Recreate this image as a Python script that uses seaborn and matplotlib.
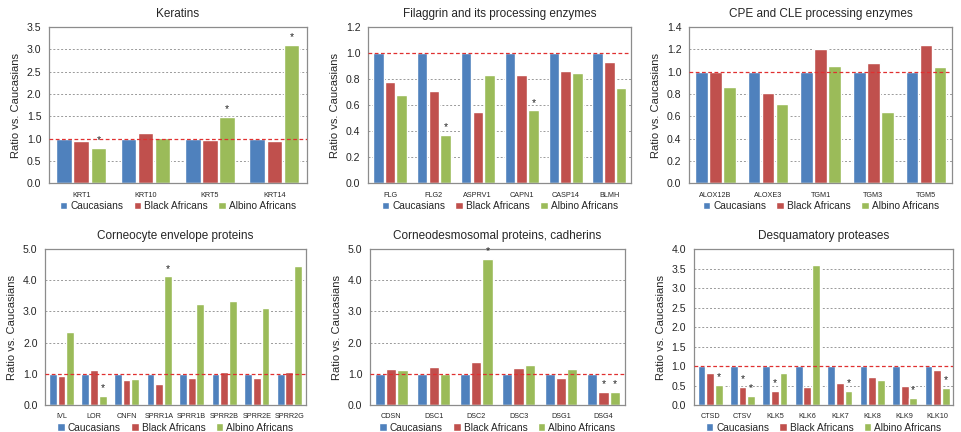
import matplotlib
matplotlib.use("Agg")
import matplotlib.pyplot as plt
import numpy as np
import pandas as pd
import seaborn as sns
from matplotlib.ticker import FormatStrFormatter, MultipleLocator

GROUPS = ["Caucasians", "Black Africans", "Albino Africans"]
COLORS = ["#4F81BD", "#C0504D", "#9BBB59"]

# Keratins
ker_genes = ["KRT1", "KRT10", "KRT5", "KRT14"]
ker_black = [0.94, 1.13, 0.96, 0.95]
ker_albino = [0.79, 1.02, 1.48, 3.10]
ker_sig = [("KRT1", "Albino Africans"), ("KRT5", "Albino Africans"), ("KRT14", "Albino Africans")]

# Filaggrin and its processing enzymes
flg_genes = ["FLG", "FLG2", "ASPRV1", "CAPN1", "CASP14", "BLMH"]
flg_black = [0.78, 0.71, 0.55, 0.83, 0.86, 0.93]
flg_albino = [0.68, 0.37, 0.83, 0.56, 0.85, 0.73]
flg_sig = [("FLG2", "Albino Africans"), ("CAPN1", "Albino Africans")]

# CPE and CLE processing enzymes
cpe_genes = ["ALOX12B", "ALOXE3", "TGM1", "TGM3", "TGM5"]
cpe_black = [1.00, 0.81, 1.20, 1.08, 1.24]
cpe_albino = [0.86, 0.71, 1.05, 0.64, 1.04]
cpe_sig = []

# Corneocyte envelope proteins
ce_genes = ["IVL", "LOR", "CNFN", "SPRR1A", "SPRR1B", "SPRR2B", "SPRR2E", "SPRR2G"]
ce_black = [0.94, 1.13, 0.80, 0.66, 0.88, 1.05, 0.86, 1.05]
ce_albino = [2.33, 0.28, 0.83, 4.12, 3.25, 3.35, 3.10, 4.45]
ce_sig = [("LOR", "Albino Africans"), ("SPRR1A", "Albino Africans")]

# Corneodesmosomal proteins, cadherins
cd_genes = ["CDSN", "DSC1", "DSC2", "DSC3", "DSG1", "DSG4"]
cd_black = [1.17, 1.22, 1.38, 1.18, 0.88, 0.43]
cd_albino = [1.11, 1.00, 4.67, 1.29, 1.15, 0.43]
cd_sig = [("DSC2", "Albino Africans"), ("DSG4", "Black Africans"), ("DSG4", "Albino Africans")]

# Desquamatory proteases
dp_genes = ["CTSD", "CTSV", "KLK5", "KLK6", "KLK7", "KLK8", "KLK9", "KLK10"]
dp_black = [0.83, 0.46, 0.35, 0.46, 0.57, 0.73, 0.50, 0.89]
dp_albino = [0.52, 0.24, 0.82, 3.58, 0.35, 0.63, 0.17, 0.44]
dp_sig = [("CTSD", "Albino Africans"), ("CTSV", "Black Africans"), ("CTSV", "Albino Africans"),
          ("KLK5", "Black Africans"), ("KLK7", "Albino Africans"), ("KLK9", "Albino Africans"),
          ("KLK10", "Albino Africans")]

PANELS = [
    ("Keratins", ker_genes, ker_black, ker_albino, ker_sig, 3.5, 0.5, None,
     [0.051, 0.576, 0.268, 0.361]),
    ("Filaggrin and its processing enzymes", flg_genes, flg_black, flg_albino, flg_sig, 1.2, 0.2, None,
     [0.383, 0.576, 0.274, 0.361]),
    ("CPE and CLE processing enzymes", cpe_genes, cpe_black, cpe_albino, cpe_sig, 1.4, 0.2, 0.1,
     [0.717, 0.576, 0.274, 0.361]),
    ("Corneocyte envelope proteins", ce_genes, ce_black, ce_albino, ce_sig, 5.0, 1.0, 0.5,
     [0.047, 0.0625, 0.271, 0.361]),
    ("Corneodesmosomal proteins, cadherins", cd_genes, cd_black, cd_albino, cd_sig, 5.0, 1.0, 0.5,
     [0.385, 0.0625, 0.265, 0.361]),
    ("Desquamatory proteases", dp_genes, dp_black, dp_albino, dp_sig, 4.0, 0.5, None,
     [0.722, 0.0625, 0.270, 0.361]),
]


def make_frame(genes, black, albino):
    rows = []
    for gene, b, a in zip(genes, black, albino):
        rows.append({"gene": gene, "group": "Caucasians", "ratio": 1.0})
        rows.append({"gene": gene, "group": "Black Africans", "ratio": b})
        rows.append({"gene": gene, "group": "Albino Africans", "ratio": a})
    return pd.DataFrame(rows)


def draw_panel(fig, title, genes, black, albino, sig, ymax, step, minor, rect):
    ax = fig.add_axes(rect)
    frame = make_frame(genes, black, albino)
    sns.barplot(data=frame, x="gene", y="ratio", hue="group", order=genes, hue_order=GROUPS,
                palette=COLORS, width=0.8, gap=0.1, saturation=1, errorbar=None, ax=ax)

    # stars above significant bars, looked up from the drawn patches
    for gi, group in enumerate(GROUPS):
        for gene, bar in zip(genes, ax.containers[gi].patches):
            if (gene, group) in sig:
                x = bar.get_x() + bar.get_width() / 2
                ax.text(x, bar.get_height() + ymax * 0.018, "*", ha="center", va="bottom",
                        fontsize=7.5, color="#222222")

    ax.set_ylim(0, ymax)
    ax.set_xlim(-0.5, len(genes) - 0.5)
    ax.yaxis.set_major_locator(MultipleLocator(step))
    ax.yaxis.set_major_formatter(FormatStrFormatter("%.1f"))
    if minor:
        ax.yaxis.set_minor_locator(MultipleLocator(minor))
        ax.tick_params(axis="y", which="minor", length=2.5, color="#888888")
    for y in np.arange(step, ymax - 1e-9, step):
        if abs(y - 1.0) > 1e-9:
            ax.axhline(y, color="#999999", lw=0.7, ls=(0, (2, 2)), zorder=0)
    ax.axhline(1.0, color="#E03030", lw=0.9, ls=(0, (3, 2)), zorder=3)

    ax.set_xticks(range(len(genes)))
    ax.set_xticklabels(genes, fontsize=5.2)
    ax.set_xticks(np.arange(-0.5, len(genes), 1.0), minor=True)
    ax.tick_params(axis="x", which="major", length=0, pad=6)
    ax.tick_params(axis="x", which="minor", length=3.5, color="#888888")
    ax.tick_params(axis="y", which="major", labelsize=7.6, length=3.5, color="#888888", pad=2)
    for side in ax.spines.values():
        side.set_color("#8C8C8C")
        side.set_linewidth(0.9)

    ax.set_xlabel("")
    ax.set_ylabel("Ratio vs. Caucasians", fontsize=8, labelpad=4)
    ax.set_title(title, fontsize=8.5, pad=7)

    handles, labels = ax.get_legend_handles_labels()
    ax.legend(handles, labels, loc="center", bbox_to_anchor=(0.5, -0.145), ncol=3, frameon=False,
              fontsize=7.3, handlelength=0.75, handleheight=0.75, handletextpad=0.3, columnspacing=1.0,
              borderaxespad=0)
    return ax


sns.set_theme(style="white")
plt.rcParams["font.family"] = ["Liberation Sans", "DejaVu Sans"]

fig = plt.figure(figsize=(9.61, 4.32), dpi=100)
for title, genes, black, albino, sig, ymax, step, minor, rect in PANELS:
    draw_panel(fig, title, genes, black, albino, sig, ymax, step, minor, rect)

fig.savefig("out.png", dpi=100)
